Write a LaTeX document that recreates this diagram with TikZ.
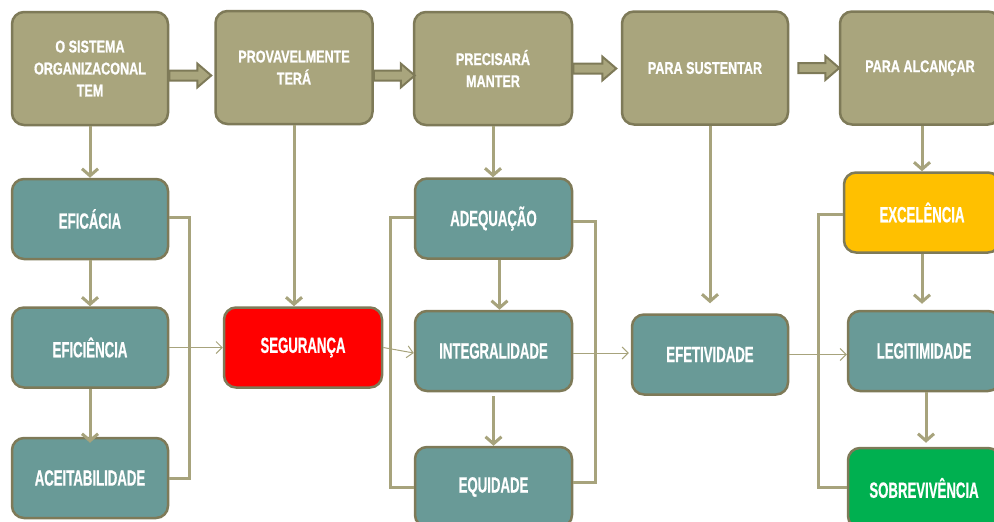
\documentclass[tikz,border=0pt]{standalone}
\usepackage{fontspec}
\setmainfont{Liberation Sans}
\newfontfamily\headfont{Liberation Sans}[FakeStretch=0.74,FakeBold=0.8]
\newfontfamily\itemfont{Liberation Sans}[FakeStretch=0.6,FakeBold=0.6]
\usetikzlibrary{arrows.meta}
\definecolor{olive}{HTML}{A9A57D}
\definecolor{olivedark}{HTML}{7E7A58}
\definecolor{link}{HTML}{A7A37C}
\definecolor{teal}{HTML}{699A97}
\definecolor{alert}{HTML}{FF0000}
\definecolor{gold}{HTML}{FFC000}
\definecolor{leaf}{HTML}{00B050}
\tikzset{
  box/.style={draw=olivedark, line width=2.5pt, rounded corners=12pt, text=white,
    align=center, inner sep=0pt},
  headbox/.style={box, fill=olive, minimum width=156pt, minimum height=113pt,
    font=\headfont\bfseries\fontsize{17}{22}\selectfont},
  itembox/.style={box, fill=teal, minimum width=156pt, minimum height=80pt,
    font=\itemfont\bfseries\fontsize{22}{24}\selectfont},
  blockarrow/.style={draw=olivedark, fill=olive, line width=2pt, line join=miter},
  flow/.style={draw=link, line width=3pt, -{Straight Barb[length=7pt,width=16pt,line width=3pt]}},
  brace/.style={draw=link, line width=3pt},
  thin/.style={draw=link, line width=1pt, -{Straight Barb[length=6pt,width=12pt]}},
}
% wide block arrow pointing right: #1 = tail point (mid-height), #2 = total length
\newcommand\blkarrow[2]{%
  \draw[blockarrow] #1 ++(0,-5) -- ++(#2-14,0) -- ++(0,-7) -- ++(14,12)
    -- ++(-14,12) -- ++(0,-7) -- ++(-#2+14,0) -- cycle;}
\begin{document}
\begin{tikzpicture}[x=1pt,y=-1pt]
\useasboundingbox (0,0) rectangle (994,522);

% top row
\node[headbox] (b1) at (90,68.5) {O SISTEMA\\ORGANIZACONAL\\TEM};
\node[headbox, minimum width=157pt] (b2) at (294,67.5) {PROVAVELMENTE\\TERÁ};
\node[headbox, minimum width=158pt] (b3) at (493,68.5) {PRECISARÁ\\MANTER};
\node[headbox, minimum width=166pt] (b4) at (705,68) {PARA SUSTENTAR};
\node[headbox, minimum width=160pt] (b5) at (920,68) {PARA ALCANÇAR};

% block arrows between the top boxes
\blkarrow{([yshift=-7pt]b1.east)}{42}
\blkarrow{([yshift=-8pt]b2.east)}{41}
\blkarrow{(b3.east)}{43}
\blkarrow{([xshift=9pt]b4.east)}{41}

% lower boxes
\node[itembox] (eficacia) at (90,219) {EFICÁCIA};
\node[itembox] (eficiencia) at (90,347.5) {EFICIÊNCIA};
\node[itembox] (aceit) at (90,478) {ACEITABILIDADE};
\node[itembox, fill=alert, minimum width=158pt] (seg) at (303,347.5) {SEGURANÇA};
\node[itembox, minimum width=157pt] (adeq) at (493.5,218.5) {ADEQUAÇÃO};
\node[itembox, minimum width=157pt] (integ) at (493.5,351) {INTEGRALIDADE};
\node[itembox, minimum width=157pt] (equid) at (493.5,487) {EQUIDADE};
\node[itembox] (efet) at (710,354.5) {EFETIVIDADE};
\node[itembox, fill=gold] (excel) at (922,212.5) {EXCELÊNCIA};
\node[itembox, minimum width=152pt] (legit) at (924,351) {LEGITIMIDADE};
\node[itembox, fill=leaf, minimum width=152pt] (sobrev) at (924,488) {SOBREVIVÊNCIA};

% brackets grouping the columns
\draw[brace] ([yshift=2pt]eficacia.east) -- ++(20,0) |- (aceit.east);
\draw[brace] ([yshift=1pt]adeq.west) -- ++(-23,0) |- (equid.west);
\draw[brace] ([yshift=-3pt]adeq.east) -- ++(22,0) |- ([yshift=5pt]equid.east);
\draw[brace] ([yshift=-2pt]excel.west) -- ++(-24,0) |- ([yshift=1pt]sobrev.west);

% vertical flow
\draw[flow] (b1.south) -- (eficacia.north);
\draw[flow] (eficacia.south) -- (eficiencia.north);
\draw[flow] (eficiencia.south) -- ([yshift=-6pt]aceit.north);
\draw[flow] (b2.south) -- (b2.south |- seg.north);
\draw[flow] (b3.south) -- (b3.south |- adeq.north);
\draw[flow] ([xshift=6pt]adeq.south) -- ([xshift=6pt]integ.north);
\draw[flow] ([yshift=-4pt]integ.south) -- (equid.north);
\draw[flow] (efet.north |- b4.south) -- ([yshift=10pt]efet.north);
\draw[flow] (b5.south -| excel.north) -- (excel.north);
\draw[flow] (excel.south) -- ([yshift=6pt]excel.south |- legit.north);
\draw[flow] ([xshift=2pt]legit.south) -- ([xshift=2pt,yshift=4pt]sobrev.north);

% horizontal flow
\coordinate (integout) at ([yshift=-2pt]integ.east);
\draw[thin] (eficiencia.east) -- (seg.west);
\draw[thin] (seg.east) -- ([yshift=-2pt]integ.west);
\draw[thin] (integout) -- ([xshift=-2pt]efet.west |- integout);
\draw[thin] (efet.east) -- (legit.west |- efet.east);
\end{tikzpicture}
\end{document}
